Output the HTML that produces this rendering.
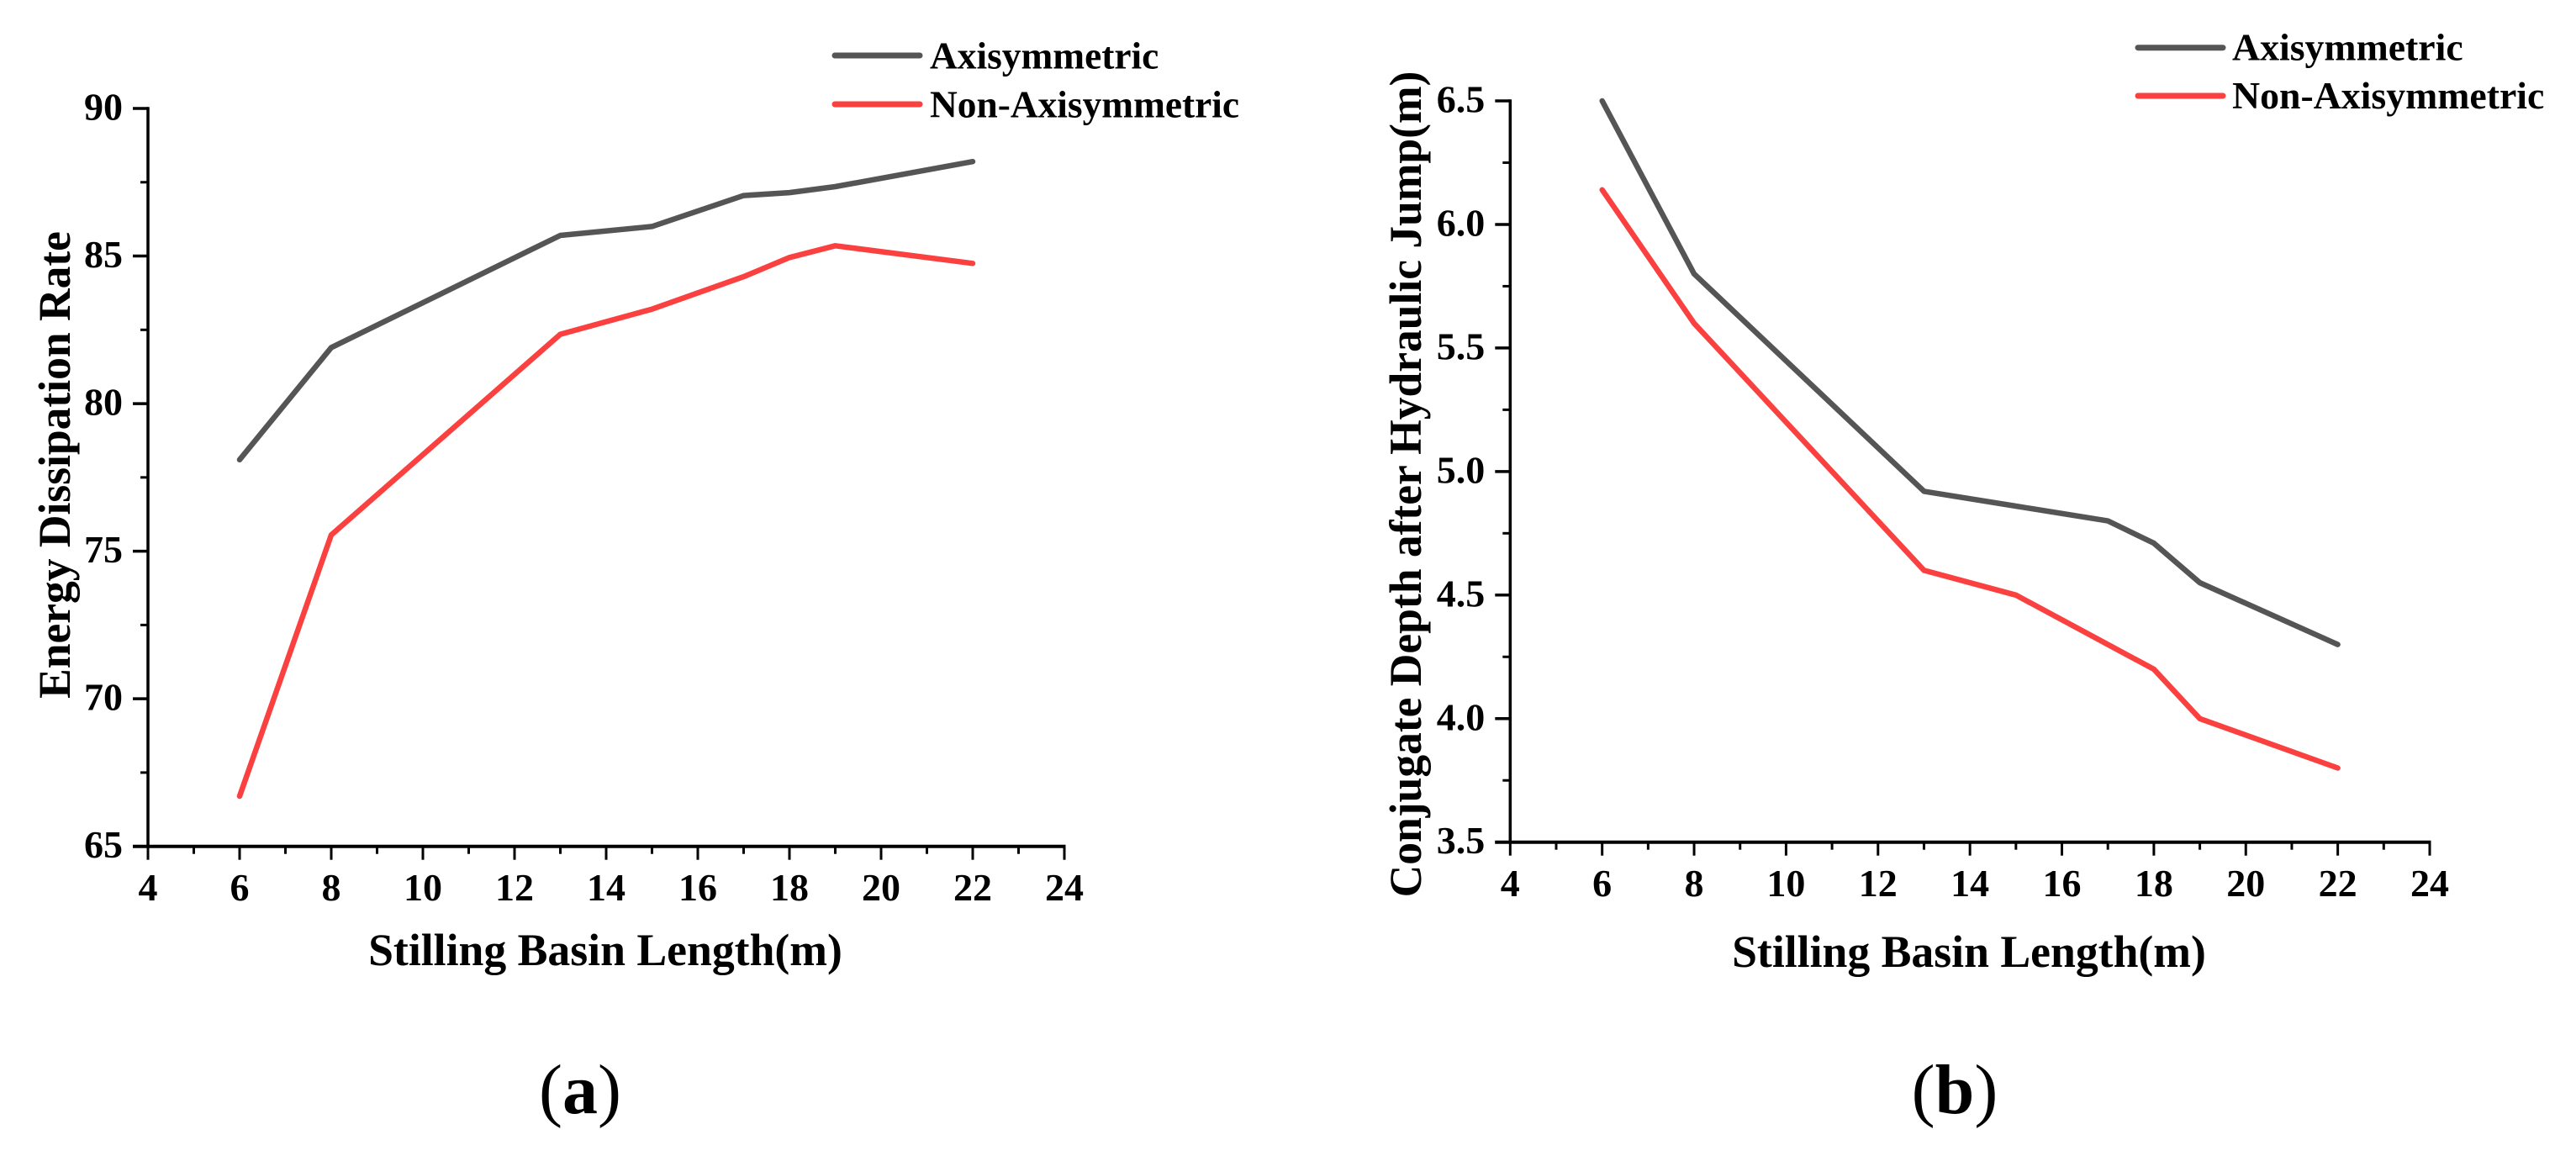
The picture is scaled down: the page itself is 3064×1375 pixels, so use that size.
<!DOCTYPE html>
<html lang="en">
<head>
<meta charset="utf-8">
<title>Energy dissipation and conjugate depth versus stilling basin length</title>
<style>
html,body{margin:0;padding:0;background:#fff;}
svg{display:block;}
text{font-family:"Liberation Serif",serif;font-weight:700;fill:#000;}
</style>
</head>
<body>
<svg id="figure" xmlns="http://www.w3.org/2000/svg" width="3064" height="1375" viewBox="0 0 3064 1375">
<rect x="0" y="0" width="3064" height="1375" fill="#fff"/>
<g id="chart-a"></g>
<g id="chart-b"></g>
<text x="690" y="1324" text-anchor="middle" font-size="84"><tspan font-weight="400">(</tspan>a<tspan font-weight="400">)</tspan></text>
<text x="2325" y="1324" text-anchor="middle" font-size="84"><tspan font-weight="400">(</tspan>b<tspan font-weight="400">)</tspan></text>
</svg>
<script>
var lengths = [6, 8, 13, 15, 17, 18, 19, 22];
var xTicks = [4, 6, 8, 10, 12, 14, 16, 18, 20, 22, 24];
var seriesNames = ['Axisymmetric', 'Non-Axisymmetric'];

var energyAxisymmetric = [78.1, 81.9, 85.7, 86.0, 87.05, 87.15, 87.35, 88.2];
var energyNonAxisymmetric = [66.7, 75.55, 82.35, 83.2, 84.3, 84.95, 85.35, 84.75];
var energyTicks = [65, 70, 75, 80, 85, 90];
var energyTickLabels = ['65', '70', '75', '80', '85', '90'];

var depthAxisymmetric = [6.5, 5.8, 4.92, 4.86, 4.8, 4.71, 4.55, 4.3];
var depthNonAxisymmetric = [6.14, 5.6, 4.6, 4.5, 4.3, 4.2, 4.0, 3.8];
var depthTicks = [3.5, 4.0, 4.5, 5.0, 5.5, 6.0, 6.5];
var depthTickLabels = ['3.5', '4.0', '4.5', '5.0', '5.5', '6.0', '6.5'];

var SVGNS = 'http://www.w3.org/2000/svg';
var GRAY = '#555555';
var RED = '#fb4040';

function add(parent, tag, name, attrs, content) {
  var el = document.createElementNS(SVGNS, tag);
  for (var k in attrs) { el.setAttribute(k, attrs[k]); }
  
  
  if (content !== undefined) { el.textContent = content; }
  parent.appendChild(el);
  return el;
}

function drawChart(cfg) {
  var g = document.getElementById(cfg.id);
  function sx(v) { return cfg.xLeft + (v - xTicks[0]) / (xTicks[xTicks.length - 1] - xTicks[0]) * (cfg.xRight - cfg.xLeft); }
  function sy(v) { return cfg.yBottom - (v - cfg.ticks[0]) / (cfg.ticks[cfg.ticks.length - 1] - cfg.ticks[0]) * (cfg.yBottom - cfg.yTop); }

  // Y axis line, ticks, labels
  add(g, 'line', 'y-axis-line', {x1: cfg.xLeft, x2: cfg.xLeft, y1: cfg.yTop - 1.75, y2: cfg.yBottom, stroke: '#000', 'stroke-width': 3.5});
  cfg.ticks.forEach(function (v, i) {
    add(g, 'line', 'y-major-tick', {x1: cfg.xLeft - 18, x2: cfg.xLeft, y1: sy(v), y2: sy(v), stroke: '#000', 'stroke-width': 3.5});
    add(g, 'text', 'y-tick-label', {x: cfg.xLeft - 30, y: sy(v) + 13.5, 'text-anchor': 'end', 'font-size': 46}, cfg.tickLabels[i]);
    if (i < cfg.ticks.length - 1) {
      var mid = (v + cfg.ticks[i + 1]) / 2;
      add(g, 'line', 'y-minor-tick', {x1: cfg.xLeft - 9, x2: cfg.xLeft, y1: sy(mid), y2: sy(mid), stroke: '#000', 'stroke-width': 3});
    }
  });

  // X axis line, ticks, labels
  add(g, 'line', 'x-axis-line', {x1: cfg.xLeft - 18, x2: cfg.xRight + 1.5, y1: cfg.yBottom, y2: cfg.yBottom, stroke: '#000', 'stroke-width': 4});
  xTicks.forEach(function (v, i) {
    add(g, 'line', 'x-major-tick', {x1: sx(v), x2: sx(v), y1: cfg.yBottom, y2: cfg.yBottom + 16, stroke: '#000', 'stroke-width': 3});
    add(g, 'text', 'x-tick-label', {x: sx(v), y: cfg.yBottom + 64.5, 'text-anchor': 'middle', 'font-size': 46}, String(v));
    if (i < xTicks.length - 1) {
      var mid = (v + xTicks[i + 1]) / 2;
      add(g, 'line', 'x-minor-tick', {x1: sx(mid), x2: sx(mid), y1: cfg.yBottom, y2: cfg.yBottom + 9, stroke: '#000', 'stroke-width': 3});
    }
  });

  // Titles
  add(g, 'text', 'x-axis-title', {x: cfg.xTitleX, y: cfg.xTitleY, 'text-anchor': 'middle', 'font-size': 53.7}, 'Stilling Basin Length(m)');
  add(g, 'text', 'y-axis-title', {x: 0, y: 0, 'text-anchor': 'middle', 'font-size': 53.5, transform: 'translate(' + cfg.yTitleX + ' ' + cfg.yTitleY + ') rotate(-90)'}, cfg.yTitle);

  // Series
  cfg.series.forEach(function (values, s) {
    var pts = values.map(function (v, i) { return sx(lengths[i]).toFixed(1) + ',' + sy(v).toFixed(1); }).join(' ');
    add(g, 'polyline', 'series-line-' + seriesNames[s].toLowerCase(), {points: pts, fill: 'none', stroke: s === 0 ? GRAY : RED, 'stroke-width': 6.5, 'stroke-linejoin': 'round', 'stroke-linecap': 'round'});
  });

  // Legend
  seriesNames.forEach(function (name, s) {
    var y = cfg.legendY + s * cfg.legendStep;
    add(g, 'line', 'legend-swatch-' + name.toLowerCase(), {x1: cfg.legendX, x2: cfg.legendX + 101, y1: y, y2: y, stroke: s === 0 ? GRAY : RED, 'stroke-width': 7, 'stroke-linecap': 'round'});
    add(g, 'text', 'legend-label-' + name.toLowerCase(), {x: cfg.legendTextX, y: y + cfg.legendBaseline, 'font-size': cfg.legendFont}, name);
  });
}

drawChart({
  id: 'chart-a', xLeft: 176, xRight: 1266, yBottom: 1006.7, yTop: 129,
  ticks: energyTicks, tickLabels: energyTickLabels,
  series: [energyAxisymmetric, energyNonAxisymmetric],
  yTitle: 'Energy Dissipation Rate', yTitleX: 83, yTitleY: 553,
  xTitleX: 720, xTitleY: 1148,
  legendX: 993, legendTextX: 1106, legendY: 66, legendStep: 58, legendBaseline: 15.5, legendFont: 45.4
});
drawChart({
  id: 'chart-b', xLeft: 1796.3, xRight: 2890, yBottom: 1001.7, yTop: 120,
  ticks: depthTicks, tickLabels: depthTickLabels,
  series: [depthAxisymmetric, depthNonAxisymmetric],
  yTitle: 'Conjugate Depth after Hydraulic Jump(m)', yTitleX: 1690, yTitleY: 576,
  xTitleX: 2342, xTitleY: 1150,
  legendX: 2543, legendTextX: 2655, legendY: 56.7, legendStep: 57.3, legendBaseline: 15, legendFont: 45.8
});
</script>
</body>
</html>
